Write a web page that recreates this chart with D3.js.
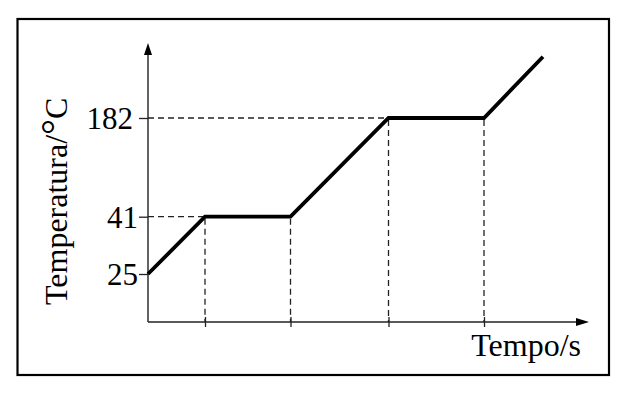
<!DOCTYPE html>
<html>
<head>
<meta charset="utf-8">
<script src="https://cdn.jsdelivr.net/npm/d3@7/dist/d3.min.js"></script>
<style>
  html, body { margin: 0; padding: 0; background: #fff; }
  svg { display: block; }
  text { font-family: "Liberation Serif", "Times New Roman", serif; fill: #000; }
</style>
</head>
<body>
<script>
// ---- data (schematic heating curve) ----
const times = [0, 5.7, 14.25, 24.05, 33.6, 39.5];          // s (schematic)
const temps = [25, 41, 41, 182, 182, 240];                 // °C (schematic)
const tickTemps = [25, 41, 182];                           // labelled temperatures
const tickTimes = [5.7, 14.25, 24.05, 33.6];               // time marks (phase changes)
const xLabel = "Tempo/s";
const yLabelMain = "Temperatura/";
const yLabelDeg = "°";
const yLabelUnit = "C";

const W = 636, H = 400;
const svg = d3.select("body").append("svg").attr("width", W).attr("height", H);

// frame
svg.append("rect").attr("x", 17.5).attr("y", 19).attr("width", 591.5).attr("height", 356)
  .attr("fill", "none").attr("stroke", "#000").attr("stroke-width", 2.2);

const x0 = 148, y0 = 322;
const x = d3.scaleLinear().domain([0, 44]).range([x0, 588]);
// schematic (non-proportional) temperature axis: piecewise linear
const y = d3.scaleLinear().domain([0, 25, 41, 182, 240]).range([y0, 274, 216.7, 118, 56.7]);

const axisColor = "#222";

// dashed guide lines
const dash = "6,4";
const dashColor = "#222";
const g = svg.append("g");
[[41, times[1]], [182, times[3]]].forEach(([t, tt]) => {
  g.append("line").attr("x1", x0).attr("x2", x(tt)).attr("y1", y(t)).attr("y2", y(t))
    .attr("stroke", dashColor).attr("stroke-width", 1.3).attr("stroke-dasharray", dash);
});
tickTimes.forEach((tt, i) => {
  const idx = i + 1;
  g.append("line").attr("x1", x(tt)).attr("x2", x(tt)).attr("y1", y(temps[idx]) + 2).attr("y2", y0)
    .attr("stroke", dashColor).attr("stroke-width", 1.3).attr("stroke-dasharray", dash);
});

// y axis with ticks to the left
const yAxis = d3.axisLeft(y).tickValues(tickTemps).tickSize(9).tickPadding(1).tickFormat(d3.format("d"));
const ya = svg.append("g").attr("transform", `translate(${x0},0)`).call(yAxis);
ya.select(".domain").remove();
ya.selectAll(".tick line").attr("stroke", axisColor).attr("stroke-width", 1.3);
ya.selectAll(".tick text").attr("font-size", 31).attr("font-family", "Liberation Serif").attr("dy", "0.34em");
ya.selectAll(".tick").filter(d => d === 182).select("text").attr("dx", -5);

svg.append("line").attr("x1", x0).attr("x2", x0).attr("y1", y0).attr("y2", 50)
  .attr("stroke", axisColor).attr("stroke-width", 1.4);
svg.append("path").attr("d", `M${x0},43 L${x0 - 4},55 L${x0 + 4},55 Z`).attr("fill", "#000");

// x axis with ticks crossing the line
const xAxis = d3.axisBottom(x).tickValues(tickTimes).tickSize(5).tickFormat("");
const xa = svg.append("g").attr("transform", `translate(0,${y0})`).call(xAxis);
xa.select(".domain").remove();
xa.selectAll(".tick line").attr("stroke", axisColor).attr("stroke-width", 1.3).attr("y1", -5);
svg.append("line").attr("x1", x0).attr("x2", 580).attr("y1", y0).attr("y2", y0)
  .attr("stroke", axisColor).attr("stroke-width", 1.4);
svg.append("path").attr("d", `M589,${y0} L576,${y0 - 4} L576,${y0 + 4} Z`).attr("fill", "#000");

// heating curve
const pts = times.map((t, i) => [t, temps[i]]);
svg.append("path").datum(pts)
  .attr("d", d3.line().x(d => x(d[0])).y(d => y(d[1])))
  .attr("fill", "none").attr("stroke", "#000").attr("stroke-width", 3.8)
  .attr("stroke-linejoin", "miter").attr("stroke-linecap", "butt");

// labels
svg.append("text").attr("x", 581).attr("y", 356).attr("text-anchor", "end")
  .attr("font-size", 32).text(xLabel);
const yl = svg.append("text").attr("transform", "translate(67,305) rotate(-90)").attr("font-size", 32);
yl.append("tspan").text(yLabelMain);
yl.append("tspan").attr("font-size", 40).attr("dy", 2).text(yLabelDeg);
yl.append("tspan").attr("dy", -2).text(yLabelUnit);
</script>
</body>
</html>
